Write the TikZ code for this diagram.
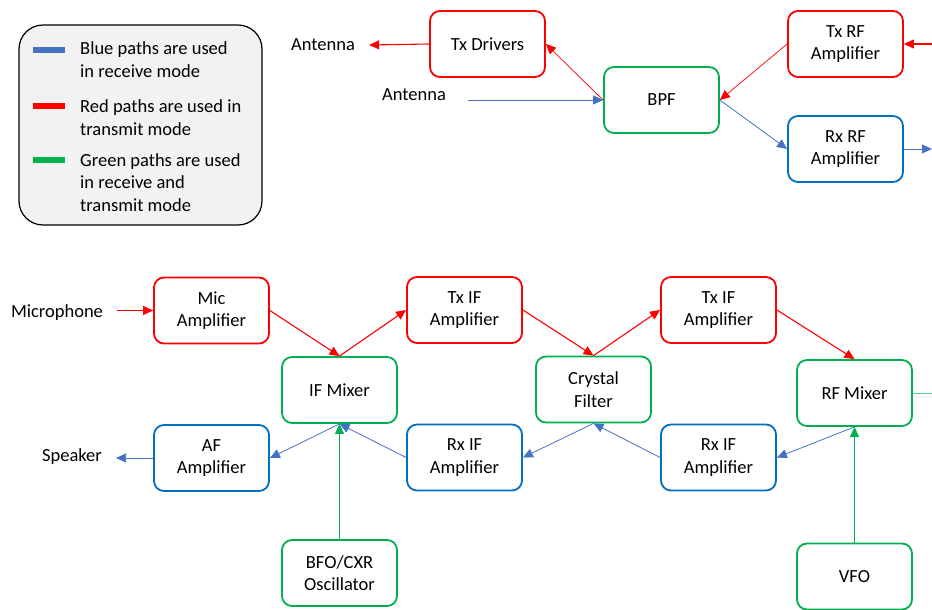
\documentclass[tikz,border=0pt]{standalone}
\usepackage{fontspec}
\setmainfont{Carlito}
\usetikzlibrary{arrows.meta}

\definecolor{txred}{HTML}{FF0000}
\definecolor{rxblue}{HTML}{0070C0}
\definecolor{lineblue}{HTML}{4472C4}
\definecolor{trxgreen}{HTML}{00B050}

\begin{document}
\begin{tikzpicture}[x=1pt,y=-1pt,
        font=\fontsize{18.5}{22.5}\selectfont,
        >={Triangle[length=10pt,width=9pt]},
        block/.style={draw,rounded corners=10pt,line width=1.8pt,align=center,
            minimum width=115pt,minimum height=66pt,inner sep=2pt},
        txblock/.style={block,draw=txred},
        rxblock/.style={block,draw=rxblue},
        trxblock/.style={block,draw=trxgreen},
        lbl/.style={inner xsep=14pt},
        txpath/.style={->,txred,line width=1.1pt},
        rxpath/.style={->,lineblue,line width=0.8pt},
        trxpath/.style={->,trxgreen,line width=1pt}]
        \useasboundingbox(0,0)rectangle(932,610);

        % legend
        \node[draw,line width=1.2pt,fill=black!5,rounded corners=24pt,minimum width=243pt,minimum height=200pt](legend)at(140.5,125){};
        \draw[line width=6pt,lineblue](33,50)--(65,50);
        \draw[line width=6pt,txred](33,106)--(65,106);
        \draw[line width=6pt,trxgreen](33,160)--(65,160);
        \node[anchor=west,align=left,inner sep=0pt](leg rx)at(80,59.5){Blue paths are used\\in receive mode};
        \node[anchor=west,align=left,inner sep=0pt](leg tx)at(80,117.5){Red paths are used in\\transmit mode};
        \node[anchor=west,align=left,inner sep=0pt](leg trx)at(80,182.5){Green paths are used\\in receive and\\transmit mode};

        % RF section
        \node[txblock](txdrv)at(487.5,44){Tx Drivers};
        \node[trxblock](bpf)at(661.5,100){BPF};
        \node[txblock](txrf)at(845.5,44){Tx RF\\Amplifier};
        \node[rxblock](rxrf)at(845.5,149){Rx RF\\Amplifier};
        \node[lbl](ant tx)at(323,45){Antenna};
        \node[lbl](ant rx)at(414,95){Antenna};
        \coordinate(rf in)at(932,44);
        \coordinate(rf out)at(932,149);

        \draw[txpath](txdrv.west)--(ant tx.east);
        \draw[rxpath,shorten <=8pt](ant rx.east|-bpf.west)--(bpf.west);
        \draw[txpath,line width=0.7pt](bpf.west)--(txdrv.east);
        \draw[txpath,line width=0.7pt](txrf.west)--(bpf.east);
        \draw[rxpath](bpf.east)--(rxrf.west);
        \draw[rxpath](rxrf.east)--(rf out);
        \draw[txpath](rf in)--(txrf.east);

        % IF section
        \node[txblock](micamp)at(211.5,310.5){Mic\\Amplifier};
        \node[txblock](txif a)at(464.5,310){Tx IF\\Amplifier};
        \node[txblock](txif b)at(718.5,310){Tx IF\\Amplifier};
        \node[trxblock](ifmix)at(339.5,390){IF Mixer};
        \node[trxblock](xtal)at(593.5,389.5){Crystal\\Filter};
        \node[trxblock](rfmix)at(854.5,393){RF Mixer};
        \node[rxblock](afamp)at(211.5,458){AF\\Amplifier};
        \node[rxblock](rxif a)at(464.5,457.5){Rx IF\\Amplifier};
        \node[rxblock](rxif b)at(718.5,457.5){Rx IF\\Amplifier};
        \node[trxblock](bfo)at(339.5,573){BFO/CXR\\Oscillator};
        \node[trxblock](vfo)at(854.5,576.5){VFO};
        \node[lbl](mic)at(57,313){Microphone};
        \node[lbl](spk)at(72,457){Speaker};
        \coordinate(lo out)at(932,393);

        \draw[txpath,line width=0.7pt](mic.east|-micamp.west)--(micamp.west);
        \draw[txpath](micamp.east)--(ifmix.north);
        \draw[txpath](ifmix.north)--(txif a.west);
        \draw[txpath](txif a.east)--(xtal.north);
        \draw[txpath](xtal.north)--(txif b.west);
        \draw[txpath](txif b.east)--(rfmix.north);
        \draw[rxpath](rfmix.south)--(rxif b.east);
        \draw[rxpath](rxif b.west)--(xtal.south);
        \draw[rxpath](xtal.south)--(rxif a.east);
        \draw[rxpath](rxif a.west)--(ifmix.south);
        \draw[rxpath](ifmix.south)--(afamp.east);
        \draw[rxpath](afamp.west)--(spk.east|-afamp.west);
        \draw[trxpath](bfo.north)--(ifmix.south);
        \draw[trxpath](vfo.north)--(rfmix.south);
        \draw[trxgreen!60,line width=1pt](rfmix.east)--(lo out);
    \end{tikzpicture}
\end{document}
